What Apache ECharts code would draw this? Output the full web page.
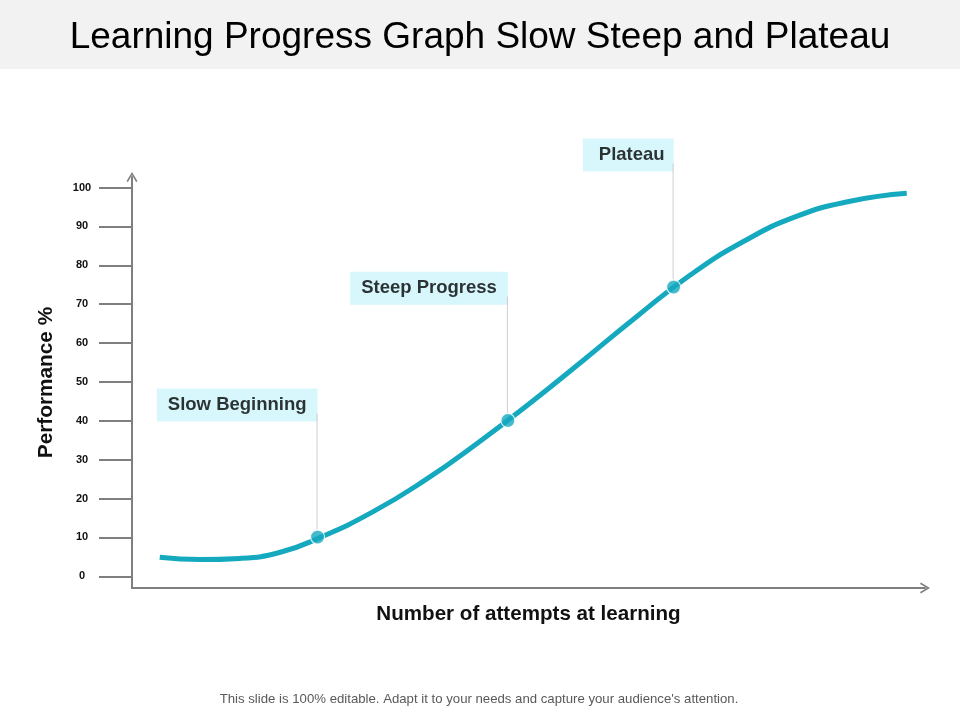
<!DOCTYPE html>
<html lang="en">
<head>
    <meta charset="UTF-8">
    <title>Learning Progress Graph Slow Steep and Plateau</title>
    <style>
        html, body { margin: 0; padding: 0; background: #fff; }
        #chart { width: 960px; height: 720px; }
    </style>
    <script src="https://cdn.jsdelivr.net/npm/echarts@6.0.0/dist/echarts.min.js"></script>
</head>
<body>
    <div id="chart"></div>
    <script type="text/javascript">
        // curve (x: share of attempts, y: performance %)
        var curveX = [3.5, 8.6, 13.6, 18.7, 23.6, 30.3, 37.0, 43.6, 50.3, 57.0, 63.7, 70.4, 77.1, 83.7, 90.4, 97.7];
        var curveY = [4.9, 4.3, 4.6, 6.2, 9.9, 16.5, 24.8, 34.3, 44.7, 55.7, 66.9, 77.5, 86.1, 92.5, 96.4, 98.5];

        // the three marked stages
        var stageNames = ['Slow Beginning', 'Steep Progress', 'Plateau'];
        var stageX = [23.4, 47.4, 68.3];
        var stageY = [10.1, 40.1, 74.4];

        var yTicks = [0, 10, 20, 30, 40, 50, 60, 70, 80, 90, 100];

        var axisColor = '#7f7f7f';
        var curveColor = '#15a9bf';
        var chevron = 'path://M0,10 L6,0 L12,10 L10.4,10.9 L6,3.4 L1.6,10.9 Z';

        function boxStyle(padLeft, padRight) {
            return {
                backgroundColor: '#cdf5fb', padding: [7, padRight, 7, padLeft], fontSize: 18.5,
                fontWeight: 'bold', color: '#000', lineHeight: 17, align: 'right'
            };
        }

        var curveData = curveX.map(function (x, i) { return [x, curveY[i]]; });
        var stageData = stageX.map(function (x, i) {
            var item = { name: stageNames[i], value: [x, stageY[i]] };
            if (stageNames[i] === 'Plateau') {
                item.label = { rich: { box: boxStyle(16, 9) } };
            }
            return item;
        });

        var chart = echarts.init(document.getElementById('chart'));
        var option = {
            backgroundColor: '#fff',
            textStyle: { fontFamily: 'Liberation Sans' },
            title: {
                text: 'Learning Progress Graph Slow Steep and Plateau',
                left: 'center',
                top: 14,
                textStyle: { fontSize: 37, fontWeight: 'normal', color: '#000', fontFamily: 'Liberation Sans' }
            },
            graphic: [
                {
                    type: 'rect', left: 0, top: 0, z: -10,
                    shape: { width: 960, height: 69 },
                    style: { fill: '#f2f2f2' }
                },
                {
                    type: 'text', x: 479, y: 699,
                    style: {
                        text: "This slide is 100% editable. Adapt it to your needs and capture your audience's attention.",
                        fontSize: 13.2, fill: '#595959', textAlign: 'center', textVerticalAlign: 'middle',
                        fontFamily: 'Liberation Sans'
                    }
                }
            ],
            grid: { left: 132, right: 35, top: 177, bottom: 132 },
            xAxis: {
                type: 'value',
                min: 0,
                max: 100,
                name: 'Number of attempts at learning',
                nameLocation: 'middle',
                nameGap: 16,
                nameTextStyle: { fontSize: 20.6, fontWeight: 'bold', color: '#111' },
                axisLine: {
                    show: true,
                    onZero: false,
                    symbol: ['none', chevron],
                    symbolSize: [11, 10],
                    lineStyle: { color: axisColor, width: 2 }
                },
                axisTick: { show: false },
                axisLabel: { show: false },
                splitLine: { show: false }
            },
            yAxis: {
                type: 'value',
                min: -3,
                max: 102.7,
                name: 'Performance %',
                nameLocation: 'middle',
                nameGap: 75,
                nameTextStyle: { fontSize: 20.8, fontWeight: 'bold', color: '#111' },
                axisLine: {
                    show: true,
                    onZero: false,
                    symbol: ['none', chevron],
                    symbolSize: [11, 10],
                    lineStyle: { color: axisColor, width: 2 }
                },
                axisTick: {
                    show: true,
                    customValues: yTicks,
                    length: 33,
                    lineStyle: { color: axisColor, width: 2 }
                },
                axisLabel: {
                    customValues: yTicks,
                    margin: 50,
                    align: 'center',
                    fontSize: 11,
                    fontWeight: 'bold',
                    color: '#111'
                },
                splitLine: { show: false }
            },
            series: [
                {
                    type: 'line',
                    data: curveData,
                    smooth: true,
                    showSymbol: false,
                    lineStyle: { color: curveColor, width: 5 },
                    silent: true,
                    z: 2
                },
                {
                    type: 'scatter',
                    data: stageData,
                    symbolSize: 14,
                    itemStyle: { color: curveColor, borderColor: '#fff', borderWidth: 1.2 },
                    z: 3,
                    label: {
                        show: true,
                        position: 'top',
                        distance: 0,
                        align: 'right',
                        verticalAlign: 'bottom',
                        color: '#000',
                        formatter: function (p) { return '{box|' + p.name + '}\n{stem|}'; },
                        rich: {
                            box: boxStyle(11, 11),
                            stem: { width: 1, height: 116, backgroundColor: '#c4c4c4', align: 'right' }
                        }
                    }
                }
            ]
        };
        chart.setOption(option);
    </script>
</body>
</html>
